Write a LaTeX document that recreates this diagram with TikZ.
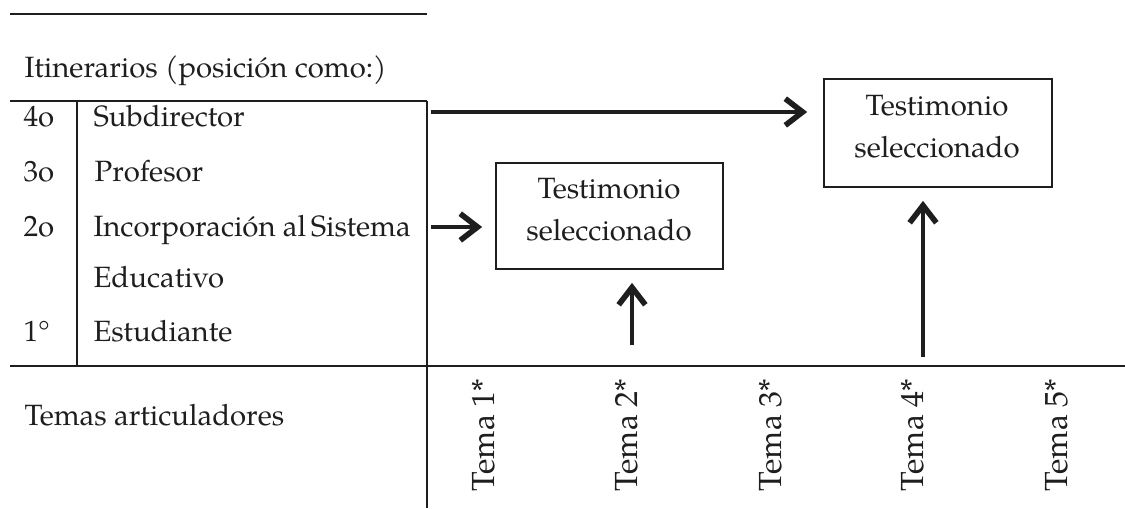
\documentclass[tikz,border=0pt]{standalone}
\usepackage{fontspec}
\setmainfont{TeX Gyre Pagella}
\usetikzlibrary{arrows.meta,calc}
\definecolor{ink}{HTML}{1E1E1E}
\begin{document}
\begin{tikzpicture}[x=0.375pt,y=-0.375pt,
  rule/.style={draw=ink, line width=0.55pt},
  arr/.style={draw=ink, line width=1.8pt, -{Straight Barb[length=6.5pt,width=10pt,line width=2.1pt]}},
  txt/.style={font=\fontsize{11}{13}\selectfont, text=ink, inner sep=0pt, anchor=base west},
  ctxt/.style={txt, anchor=base},
  tema/.style={txt, font=\fontsize{12}{14}\selectfont, rotate=90, anchor=mid east},
  boxst/.style={draw=ink, line width=0.6pt, inner sep=0pt}
]
\useasboundingbox (0,0) rectangle (1125,508);
% table rules
\draw[rule] (10,14) -- (427,14);
\draw[rule] (10,101) -- (427,101);
\draw[rule] (77,101) -- (77,366);
\draw[rule] (427,101) -- (427,508);
\draw[rule] (10,366) -- (1125,366);
% left texts
\node[txt] (itin) at (24,77) {Itinerarios (posición como:)};
\node[txt] (n4) at (23,126) {4o};
\node[txt] (r4) at (93,126) {Subdirector};
\node[txt] (n3) at (23,181) {3o};
\node[txt] (r3) at (94,181) {Profesor};
\node[txt] (n2) at (23,236) {2o};
\node[txt] (r2) at (93,236) {Incorporación al\hspace{0.16em}Sistema};
\node[txt] (r2b) at (93,287) {Educativo};
\node[txt] (n1) at (23,341) {1°};
\node[txt] (r1) at (93,341) {Estudiante};
\node[txt] (temas) at (24,425) {Temas articuladores};
% boxes
\node[boxst, minimum width=85.1pt, minimum height=39.75pt] (b1) at (609.5,216) {};
\node[ctxt] (t1a) at (609,198) {Testimonio};
\node[ctxt] (t1b) at (609,240) {seleccionado};
\node[boxst, minimum width=85.5pt, minimum height=40.5pt] (b2) at (938,133) {};
\node[ctxt] (t2a) at (937,115) {Testimonio};
\node[ctxt] (t2b) at (937,157) {seleccionado};
% temas
\node[tema] (tm1) at (488,378) {Tema 1*};
\node[tema] (tm2) at (631,378) {Tema 2*};
\node[tema] (tm3) at (775,378) {Tema 3*};
\node[tema] (tm4) at (917,378) {Tema 4*};
\node[tema] (tm5) at (1061,378) {Tema 5*};
% arrows
\coordinate (a1s) at (431,112);
\coordinate (a2s) at (431,227);
\coordinate (u1s) at (632,345);
\coordinate (u2s) at (923,357);
\draw[arr, shorten >=6pt] (a1s) -- (a1s -| b2.west);
\draw[arr, shorten >=4.9pt] (a2s) -- (a2s -| b1.west);
\draw[arr, shorten >=4.9pt] (u1s) -- (u1s |- b1.south);
\draw[arr, shorten >=4.9pt] (u2s) -- (u2s |- b2.south);
\end{tikzpicture}
\end{document}
